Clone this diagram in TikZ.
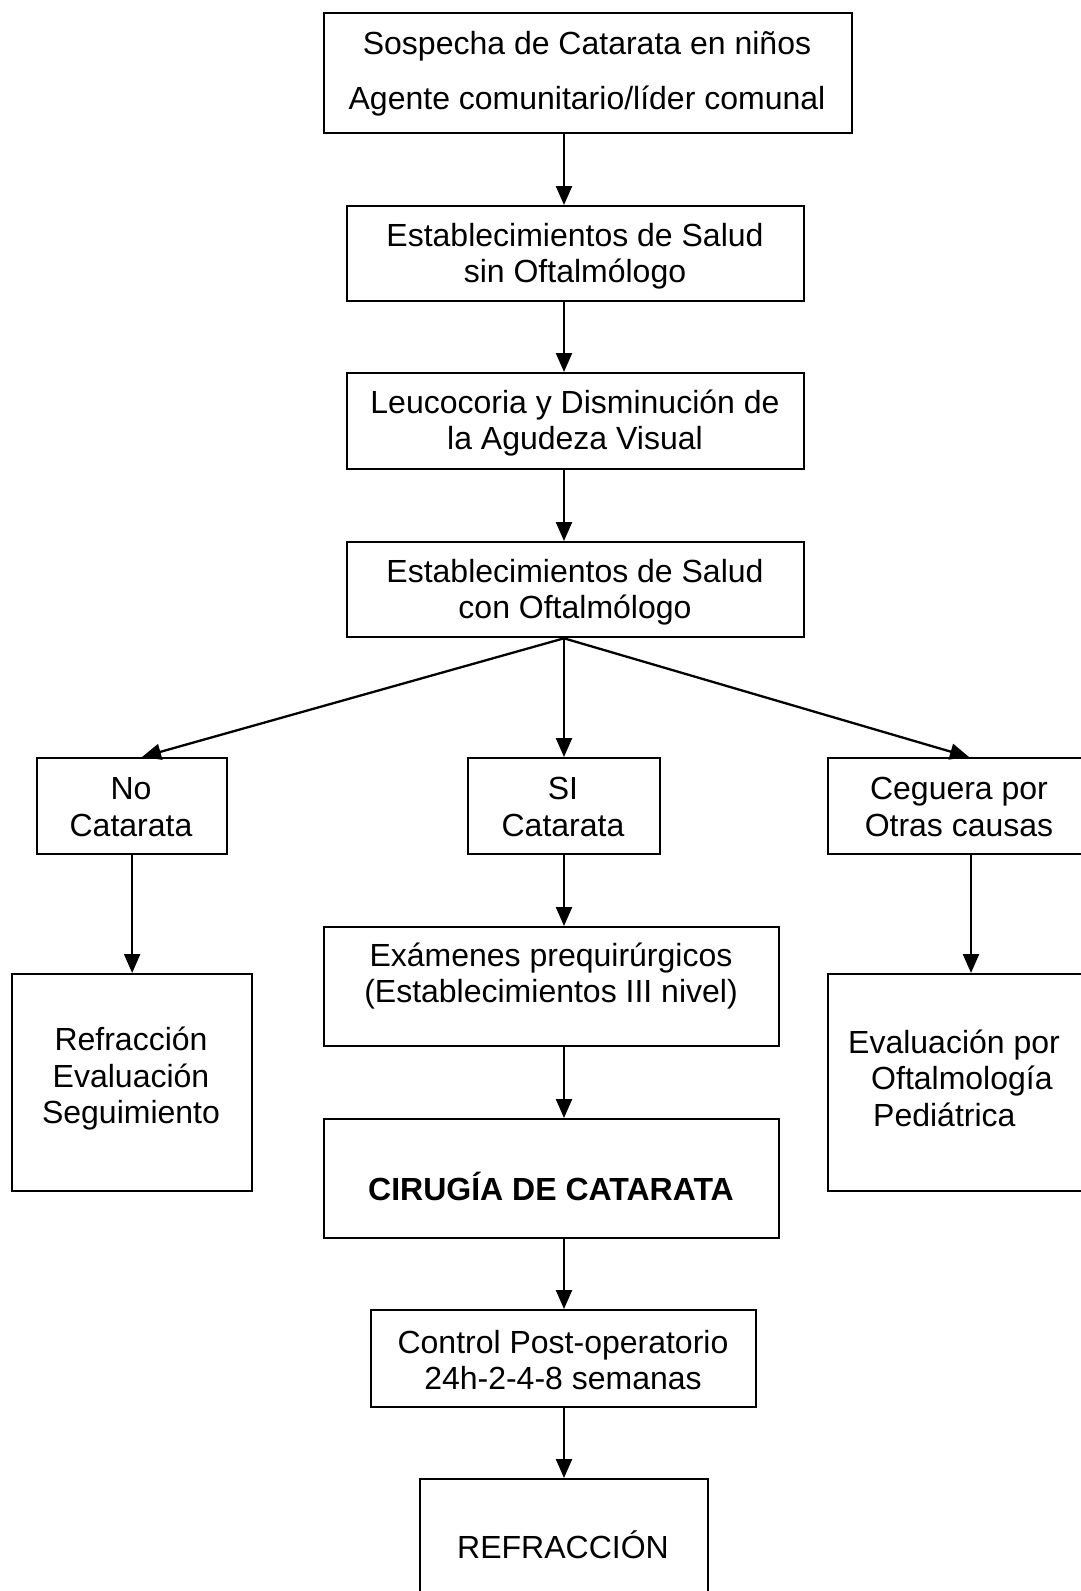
\documentclass[tikz,border=0pt]{standalone}
\usepackage{fontspec}
\setmainfont{Liberation Sans}
\usetikzlibrary{arrows.meta}
\tikzset{
  box/.style={draw, line width=2.3pt, inner sep=0pt, anchor=north west},
  txt/.style={inner sep=0pt, align=center, font=\fontsize{32}{36.5}\selectfont},
  arr/.style={line width=2.3pt, -{Triangle[length=19pt,width=16pt]}}
}
\begin{document}
\begin{tikzpicture}[x=1pt,y=-1pt]
\useasboundingbox (0,0) rectangle (1081,1591);
\coordinate (spine) at (564,0);
% boxes
\node[box, minimum width=528pt, minimum height=120pt] (top) at (323,12) {};
\node[box, minimum width=457pt, minimum height=95pt] (b2) at (346,205) {};
\node[box, minimum width=457pt, minimum height=96pt] (b3) at (346,372) {};
\node[box, minimum width=457pt, minimum height=95pt] (b4) at (346,541) {};
\node[box, minimum width=190pt, minimum height=96pt] (no) at (36,757) {};
\node[box, minimum width=192pt, minimum height=96pt] (si) at (467,757) {};
\node[box, minimum width=264pt, minimum height=96pt] (ceg) at (827,757) {};
\node[box, minimum width=240pt, minimum height=217pt] (ref) at (11,973) {};
\node[box, minimum width=455pt, minimum height=119pt] (exa) at (323,926) {};
\node[box, minimum width=455pt, minimum height=119pt] (cir) at (323,1118) {};
\node[box, minimum width=385pt, minimum height=97pt] (ctl) at (370,1309) {};
\node[box, minimum width=288pt, minimum height=130pt] (refr) at (419,1478) {};
\node[box, minimum width=264pt, minimum height=217pt] (eval) at (827,973) {};
% texts
\node[txt, font=\fontsize{32}{54.8}\selectfont] (topt) at (587,74) {Sospecha de Catarata en niños\\Agente comunitario/líder comunal};
\node[txt] (b2t) at (575,256) {Establecimientos de Salud\\sin Oftalmólogo};
\node[txt] (b3t) at (575,423) {Leucocoria y Disminución de\\la Agudeza Visual};
\node[txt] (b4t) at (575,592) {Establecimientos de Salud\\con Oftalmólogo};
\node[txt] (not) at (131,807) {No\\Catarata};
\node[txt] (sit) at (563,807) {SI\\Catarata};
\node[txt] (cegt) at (959,807) {Ceguera por\\Otras causas};
\node[txt] (reft) at (131,1079) {Refracción\\Evaluación\\Seguimiento};
\node[txt] (exat) at (551,976) {Exámenes prequirúrgicos\\(Establecimientos III nivel)};
\node[txt, font=\fontsize{32}{36.5}\selectfont\bfseries] (cirt) at (551,1186) {CIRUGÍA DE CATARATA};
\node[txt] (ctlt) at (563,1360) {Control Post-operatorio\\24h-2-4-8 semanas};
\node[txt] (refrt) at (563,1545) {REFRACCIÓN};
\node[txt, align=left, anchor=west] (evalt) at (848,1078) {Evaluación por\\\hspace*{23pt}Oftalmología\\\hspace*{25pt}Pediátrica};
% connectors
\draw[arr] (top.south -| spine) -- (b2.north -| spine);
\draw[arr] (b2.south -| spine) -- (b3.north -| spine);
\draw[arr] (b3.south -| spine) -- (b4.north -| spine);
\draw[arr] (b4.south -| spine) -- ([xshift=106pt]no.north west);
\draw[arr] (b4.south -| spine) -- (si.north -| spine);
\draw[arr] (b4.south -| spine) -- ([xshift=142pt]ceg.north west);
\draw[arr] (no.south) -- (ref.north -| no.south);
\draw[arr] (si.south -| spine) -- (exa.north -| spine);
\draw[arr] ([xshift=144pt]ceg.south west) -- ([xshift=144pt]eval.north west);
\draw[arr] (exa.south -| spine) -- (cir.north -| spine);
\draw[arr] (cir.south -| spine) -- (ctl.north -| spine);
\draw[arr] (ctl.south -| spine) -- (refr.north -| spine);
\end{tikzpicture}
\end{document}
